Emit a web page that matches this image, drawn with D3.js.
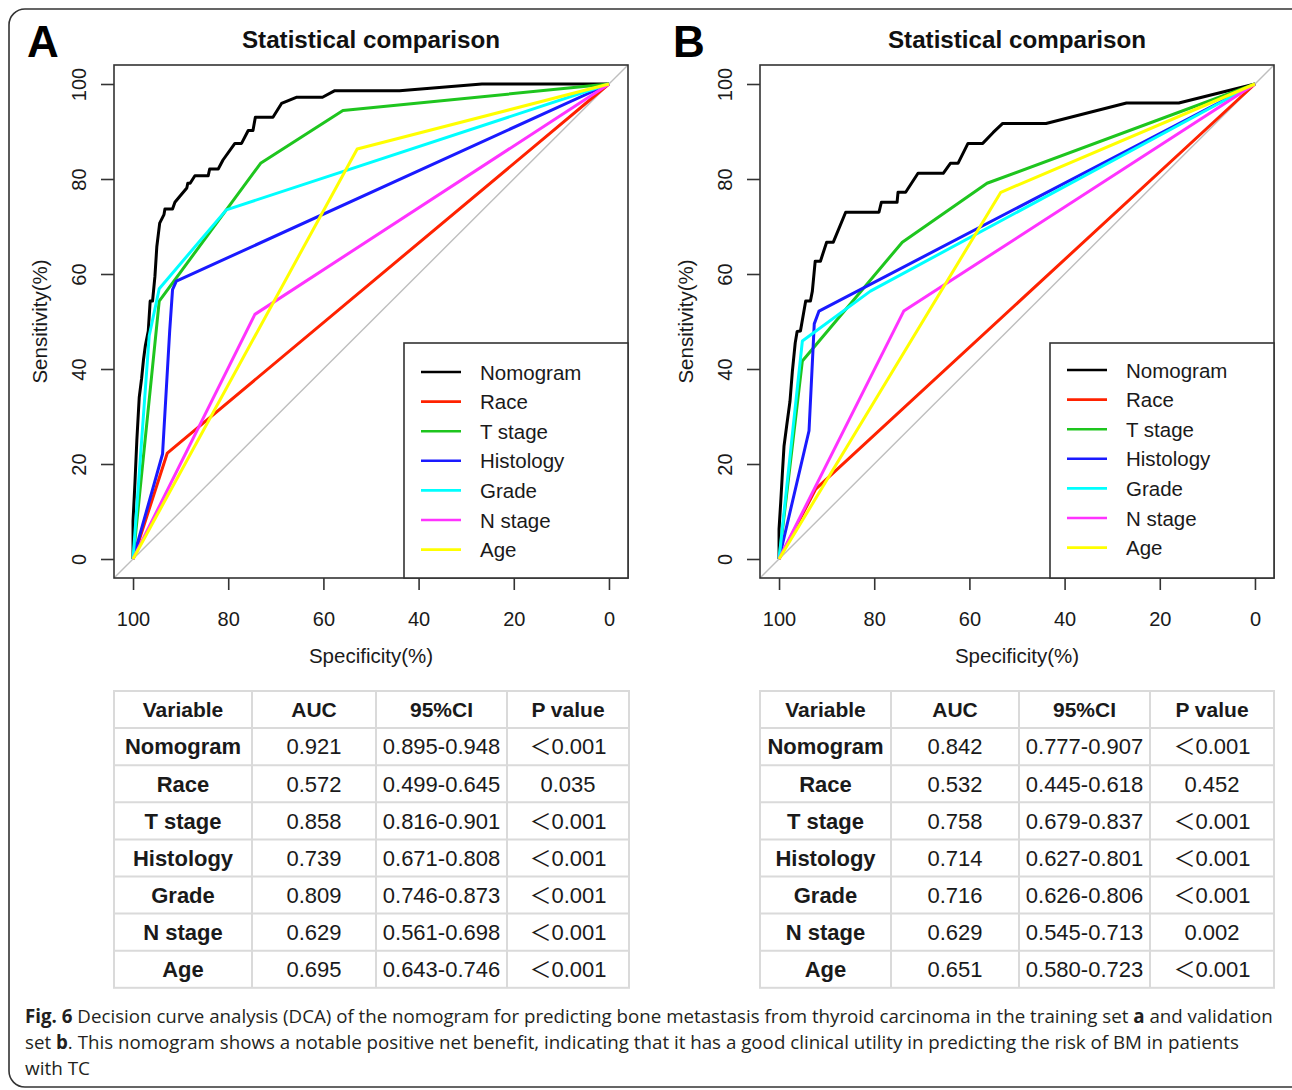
<!DOCTYPE html>
<html><head><meta charset="utf-8">
<script src="https://cdn.jsdelivr.net/npm/d3@7"></script>
<style>body{margin:0;background:#fff} svg{display:block}</style>
</head><body>
<svg id="chart" width="1292" height="1090"></svg>
<script>
// ---------- data ----------
const variables = ["Nomogram","Race","T stage","Histology","Grade","N stage","Age"];
const seriesColors = ["#000000","#ff2200","#1ec51e","#1a1aff","#00ffff","#ff33ff","#ffff00"];
const xTicks = [100,80,60,40,20,0];
const yTicks = [0,20,40,60,80,100];
const panelLabels = ["A","B"];
const panelTitle = "Statistical comparison";
const xLabel = "Specificity(%)";
const yLabel = "Sensitivity(%)";

// Panel A (training set) ROC curves: [specificity, sensitivity]
const rocA_Nomogram = [[100,0],[100,8],[99.6,16],[99.2,25],[98.7,34],[98.2,38],[97.8,42],[97.4,45],[96.8,48],[96.4,54.3],[95.9,54.3],[95.4,59.5],[95.0,65.8],[94.4,70.7],[93.5,72.5],[93.3,73.7],[91.7,73.7],[91.2,75.1],[90.2,76.3],[88.7,78.1],[88.5,79.1],[88.0,79.1],[87.0,80.7],[84.2,80.7],[83.9,82.1],[82.1,82.1],[81.1,84.0],[78.6,87.5],[77.2,87.5],[75.8,90.2],[74.8,90.2],[74.3,93.0],[70.6,93.0],[68.8,95.9],[65.7,97.2],[60.2,97.2],[57.6,98.6],[44.0,98.6],[26.7,100],[0,100]];
const rocA_Race = [[100,0],[92.8,22.3],[0,100]];
const rocA_Tstage = [[100,0],[94.5,54.3],[73.2,83.3],[55.9,94.4],[0,100]];
const rocA_Histology = [[100,0],[93.8,22.1],[92.3,48],[91.7,56.7],[90.9,58.5],[0,100]];
const rocA_Grade = [[100,0],[96.6,47],[94.5,56.9],[80.4,73.5],[0,100]];
const rocA_Nstage = [[100,0],[74.4,51.5],[0,100]];
const rocA_Age = [[100,0],[52.9,86.3],[0,100]];

// Panel B (validation set) ROC curves
const rocB_Nomogram = [[100,0],[100,6.3],[99.65,11.9],[99.3,18],[98.95,23.8],[98.4,28],[97.7,33.2],[97.2,39.5],[96.6,45.5],[96.2,47.9],[95.5,48],[94.4,54.3],[93.4,54.3],[93.0,56.4],[92.4,62.7],[91.3,62.7],[90.0,66.7],[88.6,66.7],[86.0,73.0],[79.0,73.0],[78.5,75.1],[75.2,75.1],[75.0,77.2],[73.4,77.2],[70.8,81.2],[65.5,81.2],[64.0,83.3],[62.4,83.3],[60.3,87.5],[57.2,87.5],[55.0,89.8],[53.0,91.7],[43.9,91.7],[27.0,96.0],[16.0,96.0],[0,100]];
const rocB_Race = [[100,0],[92.3,14.7],[0,100]];
const rocB_Tstage = [[100,0],[95.1,41.7],[74.1,66.7],[56.3,79.1],[0,100]];
const rocB_Histology = [[100,0],[93.7,27],[92.6,49.5],[91.6,52.2],[0,100]];
const rocB_Grade = [[100,0],[95.1,45.9],[80.8,56.4],[0,100]];
const rocB_Nstage = [[100,0],[73.8,52.2],[0,100]];
const rocB_Age = [[100,0],[53.4,77.2],[0,100]];

// Tables
const tableHeader = ["Variable","AUC","95%CI","P value"];
const aucA = ["0.921","0.572","0.858","0.739","0.809","0.629","0.695"];
const ciA  = ["0.895-0.948","0.499-0.645","0.816-0.901","0.671-0.808","0.746-0.873","0.561-0.698","0.643-0.746"];
const pA   = ["＜0.001","0.035","＜0.001","＜0.001","＜0.001","＜0.001","＜0.001"];
const aucB = ["0.842","0.532","0.758","0.714","0.716","0.629","0.651"];
const ciB  = ["0.777-0.907","0.445-0.618","0.679-0.837","0.627-0.801","0.626-0.806","0.545-0.713","0.580-0.723"];
const pB   = ["＜0.001","0.452","＜0.001","＜0.001","＜0.001","0.002","＜0.001"];

const captionLines = [
  [["Fig. 6",true],[" Decision curve analysis (DCA) of the nomogram for predicting bone metastasis from thyroid carcinoma in the training set ",false],["a",true],[" and validation",false]],
  [["set ",false],["b",true],[". This nomogram shows a notable positive net benefit, indicating that it has a good clinical utility in predicting the risk of BM in patients",false]],
  [["with TC",false]]
];

// ---------- drawing ----------
const svg = d3.select("#chart");
const FONT = "Arimo, 'Liberation Sans', Arial, Helvetica, 'DejaVu Sans', 'Noto Sans CJK SC', sans-serif";
const TXT = "#1a1a1a";

svg.append("rect").attr("x",9).attr("y",9).attr("width",1300).attr("height",1078)
  .attr("rx",16).attr("fill","none").attr("stroke","#333").attr("stroke-width",1.6);

function drawPanel(cfg){
  const g = svg.append("g");
  const x = d3.scaleLinear().domain([104,-4]).range([cfg.left, cfg.left+514]);
  const y = d3.scaleLinear().domain([-4,104]).range([578,65]);
  const line = d3.line().x(d=>x(d[0])).y(d=>y(d[1]));

  g.append("path").datum([[104,-4],[-4,104]]).attr("d",line)
    .attr("fill","none").attr("stroke","#bebebe").attr("stroke-width",1.4);

  cfg.curves.forEach((c,i)=>{
    g.append("path").datum(c).attr("d",line).attr("fill","none")
      .attr("stroke",seriesColors[i]).attr("stroke-width",3)
      .attr("stroke-linejoin","round");
  });

  g.append("rect").attr("x",x(104)).attr("y",y(104)).attr("width",x(-4)-x(104)).attr("height",y(-4)-y(104))
    .attr("fill","none").attr("stroke","#333").attr("stroke-width",1.6);

  const xa = g.append("g").attr("transform",`translate(0,${y(-4)})`)
    .call(d3.axisBottom(x).tickValues(xTicks).tickSize(12).tickFormat(d3.format("d")));
  xa.select(".domain").remove();
  xa.selectAll("line").attr("stroke","#333").attr("stroke-width",1.6);
  xa.selectAll("text").attr("font-family",FONT).attr("font-size",20).attr("fill",TXT)
    .attr("dy",null).attr("y",48);

  const ya = g.append("g").attr("transform",`translate(${x(104)},0)`)
    .call(d3.axisLeft(y).tickValues(yTicks).tickSize(13).tickFormat(d3.format("d")));
  ya.select(".domain").remove();
  ya.selectAll("line").attr("stroke","#333").attr("stroke-width",1.6);
  ya.selectAll("text").attr("font-family",FONT).attr("font-size",20).attr("fill",TXT)
    .attr("x",null).attr("dy",null).attr("text-anchor","middle")
    .attr("transform",`translate(-28,0) rotate(-90)`);

  const cx = (x(104)+x(-4))/2;
  g.append("text").attr("x",cx).attr("y",663).attr("text-anchor","middle")
    .attr("font-family",FONT).attr("font-size",20.5).attr("fill",TXT).text(xLabel);
  g.append("text").attr("transform",`translate(${x(104)-67},${(y(-4)+y(104))/2}) rotate(-90)`)
    .attr("text-anchor","middle").attr("font-family",FONT).attr("font-size",20.5).attr("fill",TXT).text(yLabel);
  g.append("text").attr("x",cx).attr("y",48).attr("text-anchor","middle")
    .attr("font-family",FONT).attr("font-weight","bold").attr("font-size",24.2).attr("fill","#111").text(panelTitle);
  g.append("text").attr("x",cfg.left-87).attr("y",57)
    .attr("font-family",FONT).attr("font-weight","bold").attr("font-size",44).attr("fill","#000").text(cfg.label);

  const lx = x(-4)-224;
  const leg = g.append("g");
  leg.append("rect").attr("x",lx).attr("y",343).attr("width",224).attr("height",y(-4)-343)
    .attr("fill","#fff").attr("stroke","#333").attr("stroke-width",1.6);
  const items = leg.selectAll("g.item").data(variables).join("g")
    .attr("transform",(d,i)=>`translate(${lx},${cfg.legendTop + i*29.6})`);
  items.append("line").attr("x1",17).attr("x2",57).attr("y1",0).attr("y2",0)
    .attr("stroke",(d,i)=>seriesColors[i]).attr("stroke-width",2.6);
  items.append("text").attr("x",76).attr("y",7.5).attr("font-family",FONT).attr("font-size",20.5)
    .attr("fill",TXT).text(d=>d);
}

function drawTable(cfg){
  const g = svg.append("g");
  const cols = cfg.cols;
  const top = 691, rowH = 37.1;
  const rows = [tableHeader].concat(variables.map((v,i)=>[v,cfg.auc[i],cfg.ci[i],cfg.p[i]]));
  const bottom = top + rowH*rows.length;
  g.append("rect").attr("x",cols[0]).attr("y",top).attr("width",cols[4]-cols[0]).attr("height",bottom-top)
    .attr("fill","#fff").attr("stroke","#dadada").attr("stroke-width",2);
  g.selectAll("line.h").data(d3.range(1,rows.length)).join("line")
    .attr("x1",cols[0]).attr("x2",cols[4]).attr("y1",d=>top+d*rowH).attr("y2",d=>top+d*rowH)
    .attr("stroke","#dadada").attr("stroke-width",2);
  g.selectAll("line.v").data([1,2,3]).join("line")
    .attr("x1",d=>cols[d]).attr("x2",d=>cols[d]).attr("y1",top).attr("y2",bottom)
    .attr("stroke","#dadada").attr("stroke-width",2);
  rows.forEach((r,ri)=>{
    r.forEach((cell,ci)=>{
      g.append("text").attr("x",(cols[ci]+cols[ci+1])/2).attr("y",top+ri*rowH+rowH/2+7.8)
        .attr("text-anchor","middle").attr("font-family",FONT).attr("font-size",ri===0?21:22)
        .attr("font-weight",(ri===0||ci===0)?"bold":"normal").attr("fill",TXT).text(cell);
    });
  });
}

drawPanel({left:114,label:panelLabels[0],legendTop:372,
  curves:[rocA_Nomogram,rocA_Race,rocA_Tstage,rocA_Histology,rocA_Grade,rocA_Nstage,rocA_Age]});
drawPanel({left:760,label:panelLabels[1],legendTop:370,
  curves:[rocB_Nomogram,rocB_Race,rocB_Tstage,rocB_Histology,rocB_Grade,rocB_Nstage,rocB_Age]});

drawTable({cols:[114,252,376,507,629],auc:aucA,ci:ciA,p:pA});
drawTable({cols:[760,891,1019,1150,1274],auc:aucB,ci:ciB,p:pB});

// caption: one text per line, horizontally scaled to the reference width
const capWidths = [1248,1215,65];
captionLines.forEach((ln,i)=>{
  const t = svg.append("text").attr("x",0).attr("y",0)
    .attr("font-family","'Open Sans', 'Noto Sans', sans-serif").attr("font-size",19).attr("fill","#231f20");
  ln.forEach(seg=>{
    t.append("tspan").attr("font-weight",seg[1]?"bold":"normal").text(seg[0]);
  });
  const w = t.node().getComputedTextLength();
  const sx = capWidths[i]/w;
  t.attr("transform",`translate(25,${1023+i*26}) scale(${sx},1)`);
});
</script>
</body></html>
